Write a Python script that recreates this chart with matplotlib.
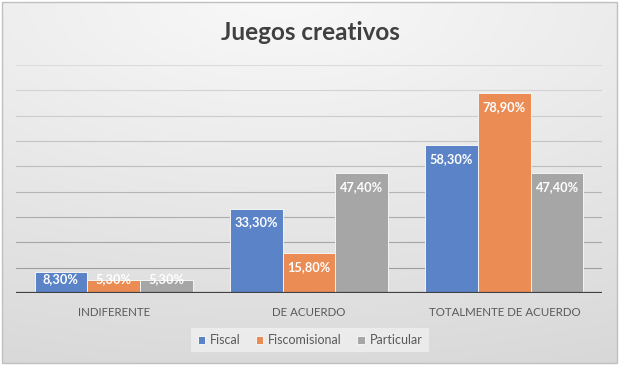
import matplotlib
matplotlib.use("Agg")
import matplotlib.pyplot as plt
import numpy as np
from matplotlib.patches import Rectangle

categories = ["INDIFERENTE", "DE ACUERDO", "TOTALMENTE DE ACUERDO"]
series_names = ["Fiscal", "Fiscomisional", "Particular"]
fiscal = [8.3, 33.3, 58.3]
fiscomisional = [5.3, 15.8, 78.9]
particular = [5.3, 47.4, 47.4]
title = "Juegos creativos"

colors = ["#5B84C8", "#EB8C55", "#A6A6A6"]
plt.rcParams['font.family'] = ['Lato', 'DejaVu Sans']

W, H = 621, 367
fig = plt.figure(figsize=(W/100, H/100), dpi=100)
fig.patch.set_facecolor("white")

# background gradient inside the chart border
bg = fig.add_axes([0, 0, 1, 1], zorder=0)
bg.set_axis_off()
yy, xx = np.mgrid[0:H, 0:W]
d = np.sqrt(((xx - W*0.45)/W)**2*0.6 + ((yy - 0)/H)**2)
val = 0.975 - 0.12*np.clip(d, 0, 1.1)
img = np.dstack([val, val, val])
bg.imshow(img, extent=[0, W, H, 0], aspect='auto', interpolation='bilinear')
bg.set_xlim(0, W); bg.set_ylim(H, 0)
for r in [Rectangle((0, 0), W, 2), Rectangle((0, 363), W, 4), Rectangle((0, 0), 2, H), Rectangle((617, 0), 4, H)]:
    r.set_facecolor("white"); r.set_edgecolor("none"); bg.add_patch(r)
bg.add_patch(Rectangle((2, 2), 615, 361, facecolor="none", edgecolor="#bfbfbf", lw=1.0))

ax = fig.add_axes([16/W, 1-293/H, 586/W, 228/H], zorder=1)
ax.patch.set_alpha(0)
x = np.arange(len(categories))
bw = 0.27
data = [fiscal, fiscomisional, particular]
for i, (vals, c, name) in enumerate(zip(data, colors, series_names)):
    xs = x + (i-1)*bw
    ax.bar(xs, vals, width=bw, color=c, edgecolor="#f4f4f4", linewidth=0.7, label=name, zorder=3)
    for xi, v in zip(xs, vals):
        ly = max(v - 5.5, 5.5)
        ax.text(xi, ly, f"{v:.2f}".replace(".", ",") + "%", ha="center", va="center",
                color="white", fontsize=9.2, fontweight="bold", zorder=4)

ax.set_ylim(0, 90)
ax.set_xlim(-0.5, 2.5)
grid_vals = np.arange(10, 91, 10)
for k, g in enumerate(grid_vals):
    t = k/(len(grid_vals)-1)
    cval = 0.62 + 0.24*t
    ax.axhline(g, color=(cval, cval, cval), lw=0.8, zorder=1)
ax.axhline(0, color="#404040", lw=1.6, zorder=5)
for s in ax.spines.values():
    s.set_visible(False)
ax.set_yticks([])
ax.set_xticks(x)
ax.set_xticklabels(categories, fontsize=8.3, color="#595959")
ax.tick_params(axis='x', length=0, pad=10)

fig.text(0.5, 1-33/H, title, ha="center", va="center", fontsize=17.5, fontweight="bold", color="#404040")

leg = fig.legend(loc="center", bbox_to_anchor=(310/W, 1-340/H), ncol=3, frameon=True,
                 fontsize=9, handlelength=0.6, handleheight=0.6, handletextpad=0.4,
                 columnspacing=1.2, borderpad=0.5, fancybox=False)
leg.get_frame().set_facecolor("#f0f0f0")
leg.get_frame().set_edgecolor("none")
for t in leg.get_texts():
    t.set_color("#595959")

fig.savefig("out.png", dpi=100)
